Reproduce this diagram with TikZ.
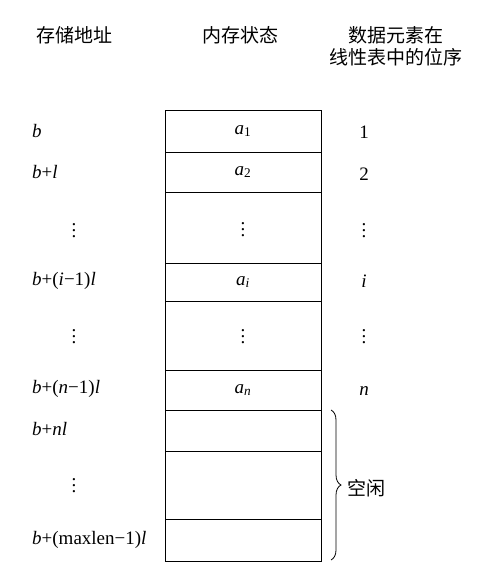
\documentclass[tikz,border=0pt]{standalone}
\usepackage{fontspec}
\setmainfont{Liberation Serif}
\newfontfamily\cjk{Noto Sans CJK SC}
\usetikzlibrary{decorations.pathreplacing}
\newcommand{\pointsv}{\vbox{\baselineskip=6pt\lineskiplimit=-20pt\hbox{.}\hbox{.}\hbox{.}}}
\tikzset{
  cellule/.style = {rectangle, draw=black, line width=0.9pt, anchor=north west, outer sep=0pt, inner sep=0pt, minimum width=156pt, font=\fontsize{19}{21}\selectfont},
  adresse/.style = {anchor=west, inner sep=0pt, font=\fontsize{19}{21}\selectfont},
  rang/.style = {inner sep=0pt, font=\fontsize{19}{21}\selectfont},
  entete/.style = {inner sep=0pt, align=center, font=\cjk\fontsize{19}{22}\selectfont}
}

\begin{document}
\begin{tikzpicture}[x=1pt, y=-1pt]

        \useasboundingbox (0,0) rectangle (479,588);

        % en-tetes
        \node (H1) [entete] at (74,35) {存储地址};
        \node (H2) [entete] at (240,35) {内存状态};
        \node (H3) [entete] at (396,46) {数据元素在\\线性表中的位序};

        % memoire
        \node (C1) [cellule, minimum height=42pt] at (165,110) {\textit{a}\textsubscript{1}};
        \node (C2) [cellule, minimum height=40pt] at (165,152) {\textit{a}\textsubscript{2}};
        \node (C3) [cellule, minimum height=71pt] at (165,192) {};
        \node (C4) [cellule, minimum height=38pt] at (165,263) {\textit{a}\textsubscript{\textit{i}}};
        \node (C5) [cellule, minimum height=69pt] at (165,301) {};
        \node (C6) [cellule, minimum height=40pt] at (165,370) {\textit{a}\textsubscript{\textit{n}}};
        \node (C7) [cellule, minimum height=41pt] at (165,410) {};
        \node (C8) [cellule, minimum height=68pt] at (165,451) {};
        \node (C9) [cellule, minimum height=42pt] at (165,519) {};
        \node (D3) [rang] at (243,230) {\pointsv};
        \node (D5) [rang] at (243,337) {\pointsv};

        % adresses
        \node (A1) [adresse] at (32,131) {\textit{b}};
        \node (A2) [adresse] at (32,172) {\textit{b}+\textit{l}};
        \node (A3) [rang] at (74,231) {\pointsv};
        \node (A4) [adresse] at (32,281) {\textit{b}+(\textit{i}−1)\textit{l}};
        \node (A5) [rang] at (74,337) {\pointsv};
        \node (A6) [adresse] at (32,389) {\textit{b}+(\textit{n}−1)\textit{l}};
        \node (A7) [adresse] at (32,429) {\textit{b}+\textit{nl}};
        \node (A8) [rang] at (74,486) {\pointsv};
        \node (A9) [adresse] at (32,540) {\textit{b}+(maxlen−1)\textit{l}};

        % positions
        \node (R1) [rang] at (364,132) {1};
        \node (R2) [rang] at (364,174) {2};
        \node (R3) [rang] at (364,231) {\pointsv};
        \node (R4) [rang] at (364,281) {\textit{i}};
        \node (R5) [rang] at (364,337) {\pointsv};
        \node (R6) [rang] at (364,391) {\textit{n}};

        % zone libre
        \coordinate (hautlibre) at (331,410);
        \coordinate (baslibre) at (331,560);
        \draw[decorate, decoration={brace, amplitude=10pt}, line width=0.8pt] (hautlibre) -- (baslibre);
        \node (L) [entete, anchor=west] at (347,488) {空闲};

    \end{tikzpicture}
\end{document}
